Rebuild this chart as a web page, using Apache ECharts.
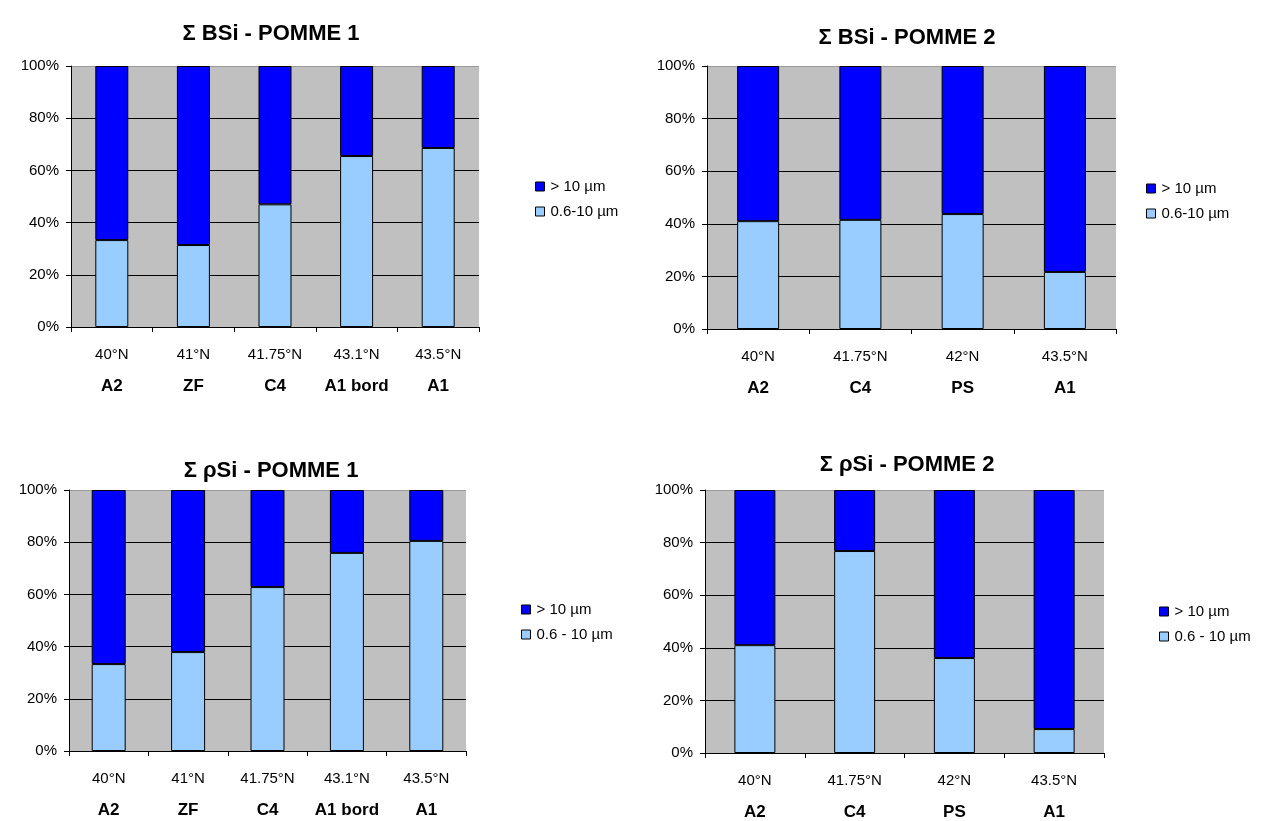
<!DOCTYPE html>
<html>
<head>
<meta charset="utf-8">
<script src="https://cdn.jsdelivr.net/npm/echarts@6/dist/echarts.min.js"></script>
<style>
html,body{margin:0;padding:0;background:#fff;}
#c{width:1266px;height:821px;}
</style>
</head>
<body>
<div id="c"></div>
<script>
// ---- Data ----
const titles = ['\u03A3 BSi - POMME 1', '\u03A3 BSi - POMME 2', '\u03A3 \u03C1Si - POMME 1', '\u03A3 \u03C1Si - POMME 2'];

const lats1 = ['40°N', '41°N', '41.75°N', '43.1°N', '43.5°N'];
const stations1 = ['A2', 'ZF', 'C4', 'A1 bord', 'A1'];
const lats2 = ['40°N', '41.75°N', '42°N', '43.5°N'];
const stations2 = ['A2', 'C4', 'PS', 'A1'];

const yTicks = [0, 20, 40, 60, 80, 100];

// BSi POMME 1 (%)
const bsi1Small = [33.3, 31.4, 47, 65.5, 68.6];
const bsi1Large = [66.7, 68.6, 53, 34.5, 31.4];
// BSi POMME 2 (%)
const bsi2Small = [41, 41.5, 43.7, 21.7];
const bsi2Large = [59, 58.5, 56.3, 78.3];
// pSi POMME 1 (%)
const psi1Small = [33.3, 37.9, 62.8, 75.9, 80.5];
const psi1Large = [66.7, 62.1, 37.2, 24.1, 19.5];
// pSi POMME 2 (%)
const psi2Small = [41, 76.8, 36.1, 9.1];
const psi2Large = [59, 23.2, 63.9, 90.9];

const nameLarge = '> 10 µm';
const nameSmallA = '0.6-10 µm';
const nameSmallB = '0.6 - 10 µm';

// ---- Chart ----
const FONT = 'Liberation Sans, Arial, sans-serif';
const DARK = '#0000FF';
const LIGHT = '#99CCFF';

const grids = [
  {left: 71, top: 66, width: 408, height: 261},
  {left: 707, top: 66, width: 409, height: 263},
  {left: 69, top: 490, width: 397, height: 261},
  {left: 705, top: 490, width: 399, height: 263}
].map(g => Object.assign({show: true, backgroundColor: '#C0C0C0', borderWidth: 0}, g));

const catSets = [[lats1, stations1], [lats2, stations2], [lats1, stations1], [lats2, stations2]];

const xAxes = catSets.map((cs, i) => ({
  type: 'category',
  gridIndex: i,
  data: cs[0].map((l, k) => l + '|' + cs[1][k]),
  axisLine: {show: true, lineStyle: {color: '#000', width: 1}},
  axisTick: {show: true, length: 5, lineStyle: {color: '#000'}},
  axisLabel: {
    interval: 0,
    margin: 14,
    formatter: function (v) { const p = v.split('|'); return '{a|' + p[0] + '}\n{b|' + p[1] + '}'; },
    rich: {
      a: {fontFamily: FONT, fontSize: 15, color: '#000', lineHeight: 28},
      b: {fontFamily: FONT, fontSize: 17, fontWeight: 'bold', color: '#000', lineHeight: 34}
    }
  },
  splitLine: {show: false}
}));

const yAxes = [0, 1, 2, 3].map(i => ({
  type: 'value',
  gridIndex: i,
  min: yTicks[0],
  max: yTicks[yTicks.length - 1],
  interval: yTicks[1] - yTicks[0],
  axisLine: {show: true, lineStyle: {color: '#000', width: 1}},
  axisTick: {show: true, length: 5, lineStyle: {color: '#000'}},
  axisLabel: {fontFamily: FONT, fontSize: 15, color: '#000', margin: 12, formatter: '{value}%'},
  splitLine: {show: true, lineStyle: {color: ['#000', '#000', '#000', '#000', '#000', '#9a9a9a'], width: 1}}
}));

const dataSets = [
  [bsi1Small, bsi1Large, nameSmallA, 33],
  [bsi2Small, bsi2Large, nameSmallA, 42],
  [psi1Small, psi1Large, nameSmallB, 34],
  [psi2Small, psi2Large, nameSmallB, 41]
];

const series = [];
dataSets.forEach((d, i) => {
  series.push({
    type: 'bar', name: d[2], stack: 's' + i, xAxisIndex: i, yAxisIndex: i,
    data: d[0], barWidth: d[3],
    itemStyle: {color: LIGHT, borderColor: '#000', borderWidth: 1},
    emphasis: {disabled: true}
  });
  series.push({
    type: 'bar', name: nameLarge, stack: 's' + i, xAxisIndex: i, yAxisIndex: i,
    data: d[1], barWidth: d[3],
    itemStyle: {color: DARK, borderColor: '#000', borderWidth: 1},
    emphasis: {disabled: true}
  });
});

const titlePos = [[266, 18], [902, 22], [266, 455], [902, 449]];
const title = titles.map((t, i) => ({
  text: t,
  left: titlePos[i][0], top: titlePos[i][1],
  textAlign: 'center',
  textStyle: {fontFamily: FONT, fontSize: 22, fontWeight: 'bold', color: '#000'}
}));

const legendPos = [[530, 174, nameSmallA], [1141, 176, nameSmallA], [516, 597, nameSmallB], [1154, 599, nameSmallB]];
const legend = legendPos.map(p => ({
  orient: 'vertical',
  left: p[0], top: p[1],
  data: [nameLarge, p[2]],
  icon: 'rect',
  itemWidth: 9, itemHeight: 9,
  itemGap: 10,
  selectedMode: false,
  itemStyle: {borderColor: '#000', borderWidth: 1},
  textStyle: {fontFamily: FONT, fontSize: 15, color: '#000', padding: [0, 0, 0, 1]}
}));

const chart = echarts.init(document.getElementById('c'), null, {renderer: 'canvas'});
chart.setOption({
  animation: false,
  backgroundColor: '#fff',
  title: title,
  legend: legend,
  grid: grids,
  xAxis: xAxes,
  yAxis: yAxes,
  series: series
});
</script>
</body>
</html>
